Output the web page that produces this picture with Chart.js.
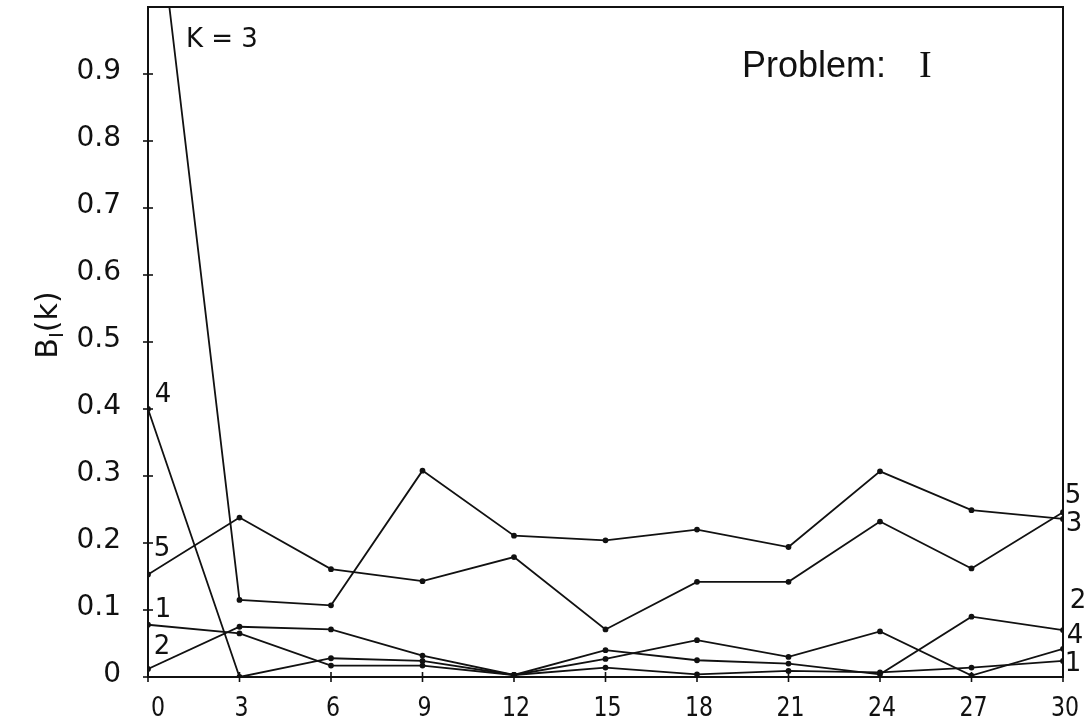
<!DOCTYPE html>
<html>
<head>
<meta charset="utf-8">
<script src="https://cdn.jsdelivr.net/npm/chart.js@4/dist/chart.umd.min.js"></script>
<style>
  html, body { margin: 0; padding: 0; background: #fff; }
  #wrap { width: 1085px; height: 725px; }
</style>
</head>
<body>
<div id="wrap"><canvas id="c" width="1085" height="725"></canvas></div>
<script>
// Sample points k and the B_I(k) curves for the five series
const kValues = [0, 3, 6, 9, 12, 15, 18, 21, 24, 27, 30];
const series1 = [0.078, 0.065, 0.017, 0.017, 0.003, 0.014, 0.004, 0.009, 0.007, 0.014, 0.024];
const series2 = [0.012, 0.075, 0.071, 0.032, 0.003, 0.040, 0.025, 0.020, 0.004, 0.090, 0.070];
const series3 = [1.27, 0.115, 0.107, 0.308, 0.211, 0.204, 0.220, 0.194, 0.307, 0.249, 0.236];
const series4 = [0.400, 0.000, 0.028, 0.024, 0.003, 0.027, 0.055, 0.030, 0.068, 0.002, 0.042];
const series5 = [0.153, 0.238, 0.161, 0.143, 0.179, 0.071, 0.142, 0.142, 0.232, 0.162, 0.246];

const seriesNames = ['1', '2', '3', '4', '5'];
const xTicks = [0, 3, 6, 9, 12, 15, 18, 21, 24, 27, 30];
const xTickLabels = ['0', '3', '6', '9', '12', '15', '18', '21', '24', '27', '30'];
const yTicks = [0, 0.1, 0.2, 0.3, 0.4, 0.5, 0.6, 0.7, 0.8, 0.9];
const yTickLabels = ['0', '0.1', '0.2', '0.3', '0.4', '0.5', '0.6', '0.7', '0.8', '0.9'];

const allSeries = [series1, series2, series3, series4, series5];

// Curve-number tags placed next to the first / last point of each curve
const startTags = [
  { s: 0, dx: 15, dy: -14 },
  { s: 1, dx: 14, dy: -22 },
  { s: 3, dx: 15, dy: -14 },
  { s: 4, dx: 14, dy: -25 }
];
const endTags = [
  { s: 0, dx: 10, dy: 3 },
  { s: 1, dx: 15, dy: -29 },
  { s: 2, dx: 11, dy: 5 },
  { s: 3, dx: 12, dy: -13 },
  { s: 4, dx: 10, dy: -16 }
];

const ink = '#111';

const datasets = allSeries.map((vals, i) => ({
  label: seriesNames[i],
  data: kValues.map((k, j) => ({ x: k, y: vals[j] })),
  borderColor: ink,
  backgroundColor: ink,
  borderWidth: 1.8,
  pointRadius: 2,
  pointHoverRadius: 2,
  tension: 0,
  fill: false
}));

const framePlugin = {
  id: 'frame',
  afterDatasetsDraw(chart) {
    const ctx = chart.ctx;
    const a = chart.chartArea;
    const xs = chart.scales.x, ys = chart.scales.y;
    ctx.save();
    ctx.strokeStyle = ink;
    ctx.lineWidth = 2;
    ctx.strokeRect(a.left, a.top, a.right - a.left, a.bottom - a.top);

    // cross-shaped tick marks on both axes
    ctx.lineWidth = 1.6;
    yTicks.forEach(v => {
      const py = ys.getPixelForValue(v);
      ctx.beginPath();
      ctx.moveTo(a.left - 5, py);
      ctx.lineTo(a.left + 5, py);
      ctx.stroke();
    });
    xTicks.forEach(v => {
      const px = xs.getPixelForValue(v);
      ctx.beginPath();
      ctx.moveTo(px, a.bottom - 5);
      ctx.lineTo(px, a.bottom + 5);
      ctx.stroke();
    });

    ctx.fillStyle = ink;
    ctx.textBaseline = 'middle';

    // y tick labels, right-aligned left of the axis
    ctx.font = '28px "DejaVu Sans", sans-serif';
    ctx.textAlign = 'right';
    yTicks.forEach((v, i) => {
      ctx.fillText(yTickLabels[i], a.left - 27, ys.getPixelForValue(v) - 2);
    });

    // x tick labels, narrow lettering below the axis
    ctx.font = '26px "DejaVu Sans", sans-serif';
    ctx.textAlign = 'center';
    xTicks.forEach((v, i) => {
      ctx.save();
      ctx.translate(xs.getPixelForValue(v) + (i === 0 ? 10 : 2), a.bottom + 32);
      ctx.scale(0.85, 1);
      ctx.fillText(xTickLabels[i], 0, 0);
      ctx.restore();
    });

    // curve tags
    ctx.font = '26px "DejaVu Sans", sans-serif';
    ctx.textAlign = 'center';
    startTags.forEach(t => {
      const vals = allSeries[t.s];
      const px = xs.getPixelForValue(kValues[0]);
      const py = ys.getPixelForValue(vals[0]);
      ctx.fillText(seriesNames[t.s], px + t.dx, py + t.dy);
    });
    endTags.forEach(t => {
      const vals = allSeries[t.s];
      const last = vals.length - 1;
      const px = xs.getPixelForValue(kValues[last]);
      const py = ys.getPixelForValue(vals[last]);
      ctx.fillText(seriesNames[t.s], px + t.dx, py + t.dy);
    });

    // "K = 3" inside the top-left corner
    ctx.textAlign = 'left';
    ctx.font = '26px "DejaVu Sans", sans-serif';
    ctx.fillText('K = 3', a.left + 38, a.top + 33);

    // panel title
    ctx.font = '36px "Liberation Sans", Arial, sans-serif';
    ctx.fillText('Problem:', 742, 67);
    ctx.font = '38px "Liberation Serif", serif';
    ctx.fillText('I', 919, 67);

    // rotated y-axis title B_I(k)
    ctx.translate(49, 325);
    ctx.rotate(-Math.PI / 2);
    const big = '30px "DejaVu Sans", sans-serif';
    const small = '20px "DejaVu Sans", sans-serif';
    ctx.font = big;
    const wB = ctx.measureText('B').width;
    const wK = ctx.measureText('(k)').width;
    ctx.font = small;
    const wI = ctx.measureText('I').width;
    let x0 = -(wB + wI + wK) / 2;
    ctx.font = big;
    ctx.fillText('B', x0, 0);
    ctx.font = small;
    ctx.fillText('I', x0 + wB, 9);
    ctx.font = big;
    ctx.fillText('(k)', x0 + wB + wI, 0);
    ctx.restore();
  }
};

new Chart(document.getElementById('c'), {
  type: 'line',
  data: { datasets },
  options: {
    responsive: false,
    devicePixelRatio: 1,
    animation: false,
    layout: { padding: { top: 7, right: 22, left: 0, bottom: 0 } },
    plugins: {
      legend: { display: false },
      tooltip: { enabled: false },
      title: { display: false }
    },
    scales: {
      x: {
        type: 'linear',
        min: 0,
        max: 30,
        afterBuildTicks: s => { s.ticks = xTicks.map(v => ({ value: v })); },
        afterFit: s => { s.height = 48; },
        grid: { display: false, drawTicks: false },
        border: { display: false },
        ticks: { display: false }
      },
      y: {
        type: 'linear',
        min: 0,
        max: 1.0,
        afterBuildTicks: s => { s.ticks = yTicks.map(v => ({ value: v })); },
        afterFit: s => { s.width = 148; },
        grid: { display: false, drawTicks: false },
        border: { display: false },
        ticks: { display: false }
      }
    }
  },
  plugins: [framePlugin]
});
</script>
</body>
</html>
